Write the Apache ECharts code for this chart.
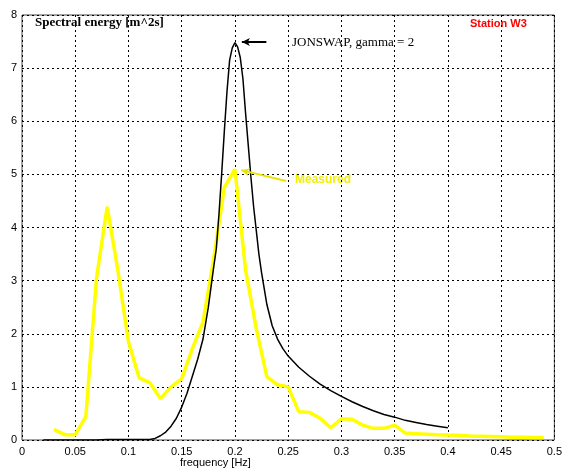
<!DOCTYPE html>
<html>
<head>
<meta charset="utf-8">
<script src="https://cdn.jsdelivr.net/npm/echarts@6/dist/echarts.min.js"></script>
<style>
html,body{margin:0;padding:0;background:#fff;}
#chart{width:565px;height:470px;}
</style>
</head>
<body>
<div id="chart"></div>
<script>
// JONSWAP (gamma = 2) spectrum
var jonswapFreq = [0.02,0.03,0.04,0.05,0.06,0.07,0.08,0.09,0.10,0.11,0.12,0.125,0.13,0.135,0.14,0.145,0.15,0.155,0.16,0.165,0.17,0.175,0.18,0.1825,0.185,0.1875,0.19,0.1925,0.195,0.1975,0.2,0.2025,0.205,0.2075,0.21,0.2125,0.215,0.2175,0.22,0.2225,0.225,0.2275,0.23,0.235,0.24,0.245,0.25,0.26,0.27,0.28,0.29,0.30,0.31,0.32,0.33,0.34,0.35,0.36,0.37,0.38,0.39,0.40];
var jonswapEnergy = [0,0,0,0,0,0,0.01,0.01,0.01,0.01,0.01,0.03,0.08,0.15,0.26,0.41,0.62,0.88,1.2,1.52,1.9,2.5,3.25,3.6,4.25,5.0,5.8,6.55,7.15,7.38,7.48,7.4,7.2,6.8,6.15,5.55,4.95,4.4,3.95,3.5,3.15,2.85,2.55,2.15,1.9,1.72,1.58,1.37,1.2,1.05,0.93,0.82,0.72,0.63,0.55,0.48,0.43,0.37,0.33,0.29,0.26,0.23];
// Measured spectrum
var measuredFreq = [0.03,0.04,0.05,0.06,0.07,0.08,0.09,0.10,0.11,0.12,0.13,0.14,0.15,0.16,0.17,0.18,0.19,0.2,0.21,0.22,0.23,0.24,0.25,0.26,0.27,0.28,0.29,0.30,0.31,0.32,0.33,0.34,0.35,0.36,0.37,0.38,0.39,0.40,0.41,0.42,0.43,0.44,0.45,0.46,0.47,0.48,0.49];
var measuredEnergy = [0.2,0.1,0.1,0.44,3.05,4.39,3.2,1.85,1.17,1.08,0.78,1.0,1.15,1.72,2.22,3.4,4.75,5.1,3.2,2.1,1.19,1.04,1.0,0.53,0.52,0.41,0.23,0.40,0.39,0.28,0.22,0.22,0.28,0.13,0.12,0.11,0.10,0.094,0.09,0.075,0.07,0.065,0.06,0.05,0.05,0.045,0.045];
var xTicks = {min:0, max:0.5, step:0.05};
var yTicks = {min:0, max:8, step:1};

function pairs(xs, ys){ return xs.map(function(x,i){ return [x, ys[i]]; }); }

var chart = echarts.init(document.getElementById('chart'), null, {renderer:'canvas'});
var gridLine = {show:true, lineStyle:{color:'#000', type:[2,3], width:1}};
var labelStyle = {color:'#000', fontFamily:'Liberation Sans, Arial, sans-serif', fontSize:11};
chart.setOption({
  animation:false,
  backgroundColor:'#fff',
  grid:{left:22, right:7, top:15, bottom:30, show:true, borderColor:'#444', borderWidth:1, backgroundColor:'#fff'},
  xAxis:{type:'value', min:xTicks.min, max:xTicks.max, interval:xTicks.step,
    axisLine:{show:false}, axisTick:{show:false}, splitLine:gridLine,
    axisLabel:Object.assign({margin:6, formatter:function(v){ return String(+v.toFixed(2)); }}, labelStyle)},
  yAxis:{type:'value', min:yTicks.min, max:yTicks.max, interval:yTicks.step,
    axisLine:{show:false}, axisTick:{show:false}, splitLine:gridLine,
    axisLabel:Object.assign({margin:5}, labelStyle)},
  series:[
    {type:'line', data:pairs(measuredFreq, measuredEnergy), symbol:'none',
      lineStyle:{color:'#ffff00', width:3.5}, z:2,
      markLine:{silent:true, symbol:['none','arrow'], symbolSize:[6,8],
        lineStyle:{color:'#e6e600', width:2, type:'solid'}, label:{show:false},
        data:[[{coord:[0.248,4.875]},{coord:[0.206,5.08]}]]}},
    {type:'line', data:pairs(jonswapFreq, jonswapEnergy), symbol:'none',
      lineStyle:{color:'#000', width:1.5}, z:3,
      markLine:{silent:true, symbol:['none','arrow'], symbolSize:[6,8],
        lineStyle:{color:'#000', width:2, type:'solid'}, label:{show:false},
        data:[[{coord:[0.2295,7.49]},{coord:[0.2065,7.49]}]]}}
  ],
  graphic:[
    {type:'text', left:35, top:16, style:{text:'Spectral energy [m^2s]', fontFamily:'Liberation Serif, Times New Roman, serif', fontWeight:'bold', fontSize:13, fill:'#000'}},
    {type:'text', left:470, top:18, style:{text:'Station W3', fontFamily:'Liberation Sans, Arial, sans-serif', fontWeight:'bold', fontSize:11, fill:'#ff0000'}},
    {type:'text', left:292, top:36, style:{text:'JONSWAP, gamma = 2', fontFamily:'Liberation Serif, Times New Roman, serif', fontSize:13, fill:'#000'}},
    {type:'text', left:295, top:174, style:{text:'Measured', fontFamily:'Liberation Sans, Arial, sans-serif', fontWeight:'bold', fontSize:12, fill:'#f0f000'}},
    {type:'text', left:180, top:457, style:{text:'frequency [Hz]', fontFamily:'Liberation Sans, Arial, sans-serif', fontSize:11, fill:'#000'}}
  ]
});
</script>
</body>
</html>
